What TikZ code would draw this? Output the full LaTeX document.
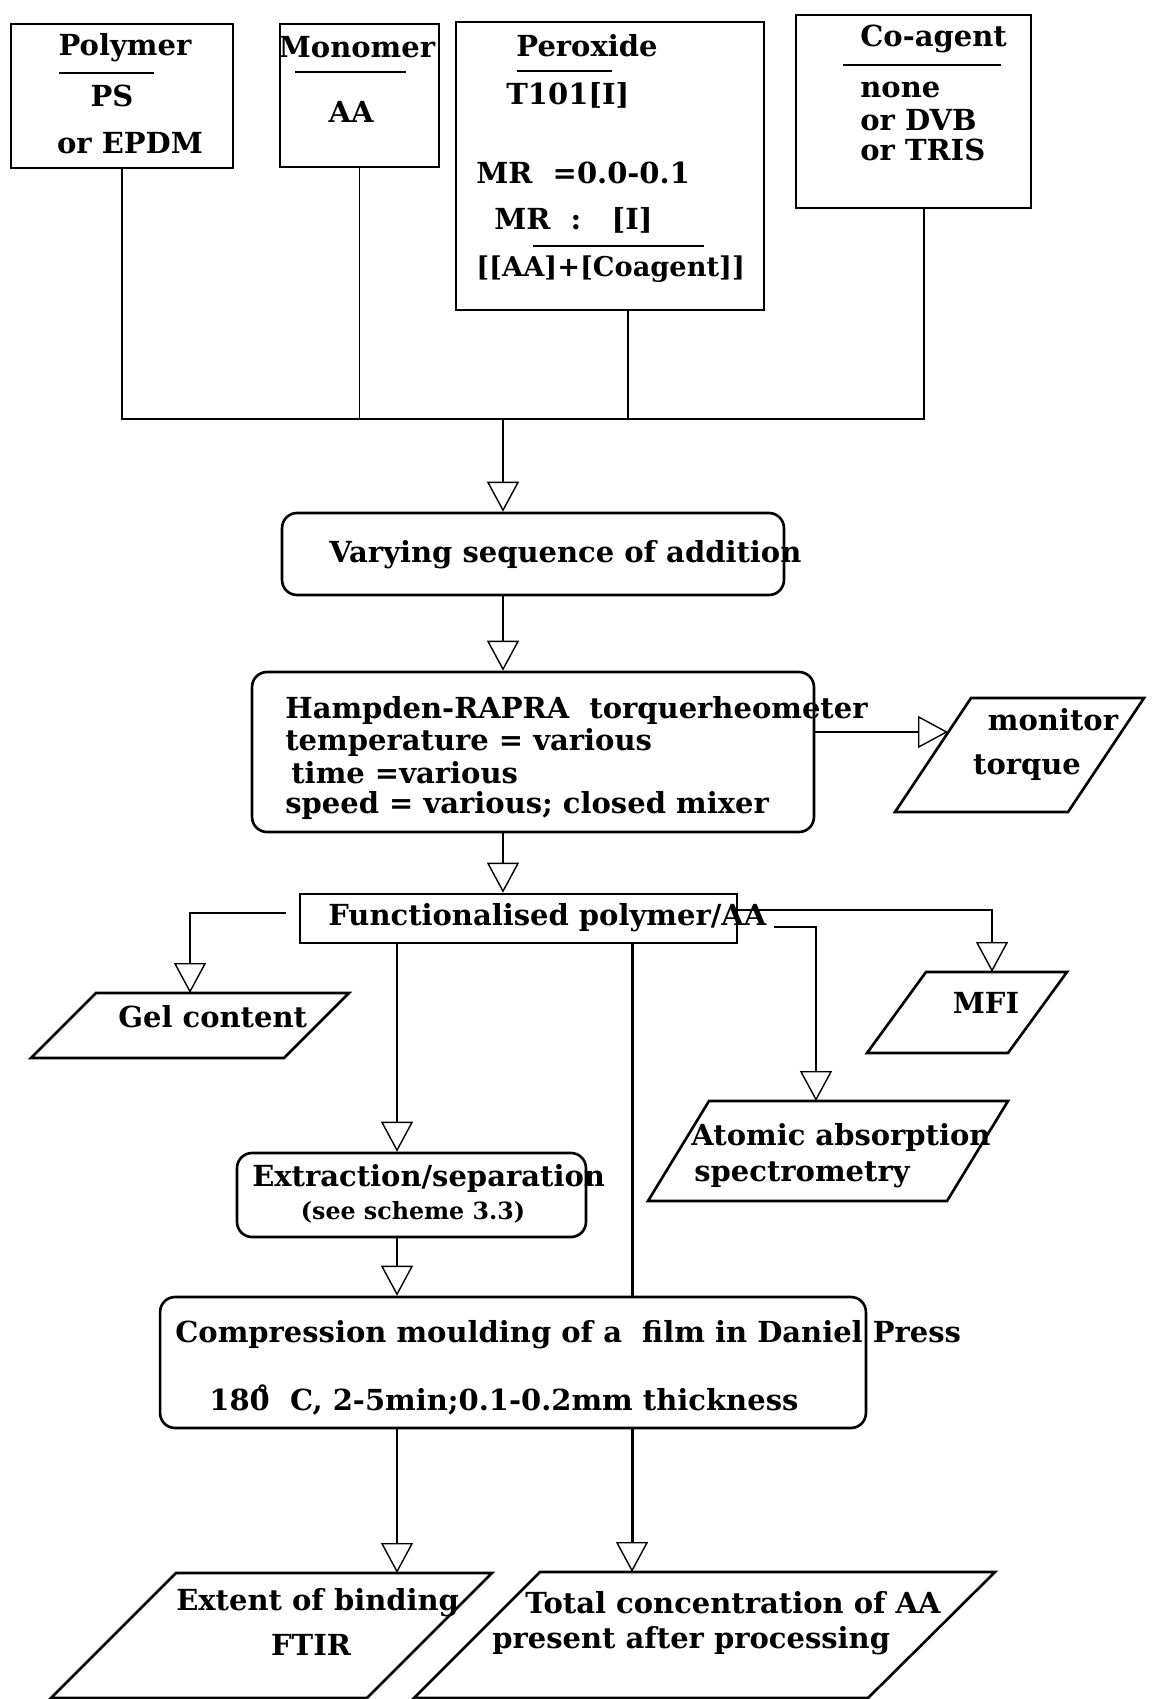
\documentclass[tikz,border=0pt]{standalone}
\usepackage{fontspec}
\setmainfont{DejaVu Serif}
\usetikzlibrary{arrows.meta}

\begin{document}
\begin{tikzpicture}[x=0.02cm, y=-0.02cm,
  font=\bfseries\fontsize{16.5}{19}\selectfont,
  box/.style={draw, line width=1.5pt, inner sep=0pt},
  rbox/.style={box, rounded corners=3mm},
  lbl/.style={inner sep=0pt},
  txt/.style={lbl, anchor=west},
  rule/.style={line width=1.5pt},
  link/.style={line width=0.8pt},
  tip/.style={-{Triangle[open, width=6.4mm, length=6mm, line width=0.8pt]}},
  flow/.style={link, tip},
  thick link/.style={line width=1.7pt}]
\useasboundingbox (0,0) rectangle (1152,1699);

% starting materials
\node (polymer)[box, minimum width=4.44cm, minimum height=2.88cm] at (122,96) {};
\node (monomer)[box, minimum width=3.18cm, minimum height=2.86cm] at (359.5,95.5) {};
\node (peroxide)[box, minimum width=6.16cm, minimum height=5.76cm] at (610,166) {};
\node (coagent)[box, minimum width=4.7cm, minimum height=3.86cm] at (913.5,111.5) {};

\node (polymer name)[lbl] at (125,48) {Polymer};
\draw[rule] (59,73) -- (154,73);
\node (ps)[lbl] at (112,96) {PS};
\node (epdm)[lbl] at (130,143) {or EPDM};

\node (monomer name)[lbl] at (357,47) {Monomer};
\draw[rule] (295,72) -- (406,72);
\node (aa)[lbl] at (351,112) {AA};

\node (peroxide name)[lbl] at (587,46) {Peroxide};
\draw[rule] (517,71) -- (612,71);
\node (t101)[txt] at (506,95) {T101[I]};
\node (mr range)[txt] at (476,173) {MR\ \ =0.0-0.1};
\node (mr ratio)[txt] at (494,220) {MR\ \ :\ \ \ [I]};
\draw[rule] (533,246) -- (704,246);
\node (mr base)[txt, font=\bfseries\fontsize{15.5}{18}\selectfont] at (476,269) {[[AA]+[Coagent]]};

\node (coagent name)[txt] at (860,39) {Co-agent};
\draw[rule] (843,65) -- (1001,65);
\node (none)[txt] at (860,90) {none};
\node (dvb)[txt] at (860,120) {or DVB};
\node (tris)[txt] at (860,150) {or TRIS};

% feed lines into one bus
\coordinate (bus) at (503,419);
\draw[link] (polymer.south) |- (bus);
\draw[link] (monomer.south) -- (monomer.south |- bus);
\draw[link] ([xshift=3.6mm]peroxide.south) -- ([xshift=3.6mm]peroxide.south |- bus);
\draw[link] ([xshift=2.1mm]coagent.south) |- (bus);

% processing
\node (varying)[rbox, minimum width=10.04cm, minimum height=1.64cm] at (533,554) {};
\node (varying text)[txt] at (329,555) {Varying sequence of addition};

\node (hampden)[rbox, minimum width=11.24cm, minimum height=3.2cm] at (533,752) {};
\node (hampden l1)[txt] at (285,710) {Hampden-RAPRA\ \ torquerheometer};
\node (hampden l2)[txt] at (285,742) {temperature = various};
\node (hampden l3)[txt] at (291,773) {time =various};
\node (hampden l4)[txt] at (285,805) {speed = various; closed mixer};

\draw[flow] (bus) -- (varying.north -| bus);
\draw[flow] (varying.south -| bus) -- (hampden.north -| bus);

% torque output
\draw[box] (971,698) -- (1144,698) -- (1068,812) -- (895,812) -- cycle;
\node (monitor)[lbl] at (1053,720) {monitor};
\node (torque)[lbl] at (1027,768) {torque};
\coordinate (torque in) at (948,732);
\draw[flow] (hampden.east |- torque in) -- (torque in);

\node (func)[box, minimum width=8.74cm, minimum height=0.98cm] at (518.5,918.5) {};
\node (func text)[txt] at (328,918) {Functionalised polymer/AA};
\draw[flow] (hampden.south -| bus) -- (func.north -| bus);

% analyses of the product
\draw[box] (96,993) -- (349,993) -- (284,1058) -- (31,1058) -- cycle;
\node (gel)[txt] at (118,1017) {Gel content};
\coordinate (gel in) at (190,993);
\draw[flow, shorten <=2.6mm] ([yshift=1.1mm]func.west) -| (gel in);

\draw[box] (926,972) -- (1067,972) -- (1008,1053) -- (867,1053) -- cycle;
\node (mfi)[lbl] at (986,1003) {MFI};
\coordinate (mfi in) at (992,972);
\draw[flow] ([yshift=1.7mm]func.east) -| (mfi in);

\draw[box] (709,1101) -- (1008,1101) -- (947,1201) -- (648,1201) -- cycle;
\node (aas l1)[txt] at (691,1137) {Atomic absorption};
\node (aas l2)[txt] at (694,1175) {spectrometry};
\coordinate (aas in) at (816,1101);
\draw[flow] ([xshift=7.2mm, yshift=-1.7mm]func.east) -| (aas in);

\node (extraction)[rbox, minimum width=6.98cm, minimum height=1.68cm] at (411.5,1195) {};
\node (extraction l1)[txt] at (252,1178) {Extraction/separation};
\node (extraction l2)[lbl, font=\bfseries\fontsize{13.5}{16}\selectfont] at (413,1212) {(see scheme 3.3)};

\coordinate (left spine) at (397,0);
\coordinate (spine) at (632,0);
\draw[flow] (func.south -| left spine) -- (extraction.north -| left spine);

\node (compression)[rbox, minimum width=14.12cm, minimum height=2.62cm] at (513,1362.5) {};
\node (compression l1)[txt] at (175,1335) {Compression moulding of a\ \ film in Daniel Press};
\node (compression l2)[txt] at (209,1400) {18\r{0}\ \ C, 2-5min;0.1-0.2mm thickness};

\draw[flow] (extraction.south -| left spine) -- (compression.north -| left spine);
\draw[thick link] (func.south -| spine) -- (compression.north -| spine);

% final measurements
\draw[box] (176,1573) -- (492,1573) -- (367,1698) -- (51,1698) -- cycle;
\node (extent l1)[txt] at (176,1603) {Extent of binding};
\node (extent l2)[lbl] at (311,1645) {FTIR};
\coordinate (extent in) at (397,1573);

\draw[box] (540,1572) -- (995,1572) -- (868,1698) -- (414,1698) -- cycle;
\node (total l1)[txt] at (525,1603) {Total concentration of AA};
\node (total l2)[txt] at (492,1641) {present after processing};
\coordinate (total in) at (632,1572);

\draw[flow] (compression.south -| left spine) -- (extent in);
\draw[thick link, tip] (compression.south -| spine) -- (total in);
\end{tikzpicture}
\end{document}
